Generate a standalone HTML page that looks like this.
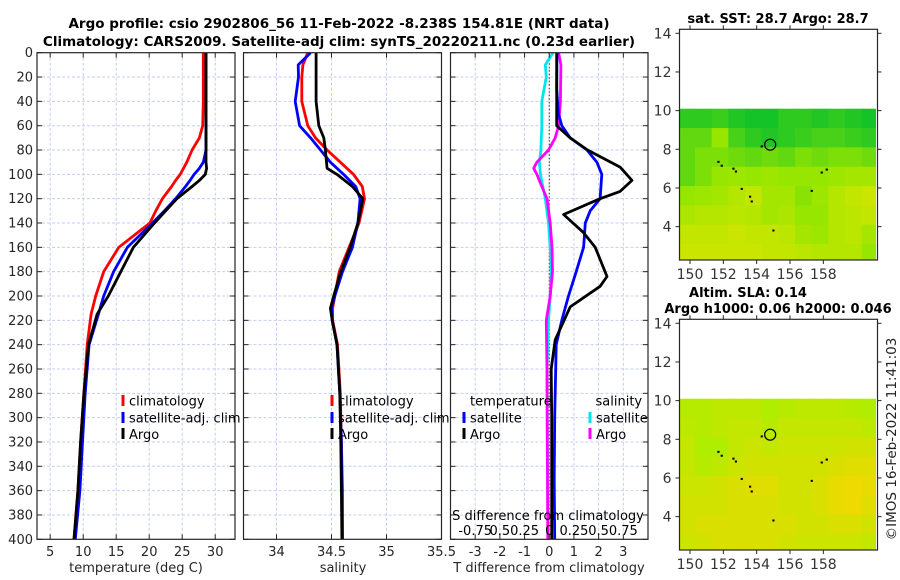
<!DOCTYPE html>
<html><head><meta charset="utf-8">
<style>
html,body{margin:0;padding:0;background:#fff;}
svg{display:block;font-family:"DejaVu Sans","Liberation Sans",sans-serif;}
</style></head>
<body>
<svg id="chart" width="900" height="580" viewBox="0 0 900 580" xmlns="http://www.w3.org/2000/svg">
<rect x="0" y="0" width="900" height="580" fill="#fff"/>
<text x="339" y="28" font-size="13.5" font-weight="bold" text-anchor="middle" fill="#000">Argo profile: csio 2902806_56 11-Feb-2022 -8.238S 154.81E (NRT data)</text>
<text x="339" y="46" font-size="13.5" font-weight="bold" text-anchor="middle" fill="#000">Climatology: CARS2009. Satellite-adj clim: synTS_20220211.nc (0.23d earlier)</text>
<g id="layer"></g>
</svg>
<script>
// ---- data ----
const tempDepth = [0,20,40,60,70,80,90,95,100,105,110,120,130,140,160,180,200,215,240,280,320,360,400];
const tempClim  = [28.2,28.2,28.2,28.1,27.6,26.5,25.7,25.2,24.7,24.0,23.4,22,21,20.1,15.4,13.1,11.9,11.2,10.6,10.1,9.6,9.2,8.6];
const tempSat   = [28.6,28.6,28.6,28.6,28.6,28.6,28.2,27.6,26.8,26.2,25.5,24,22.3,20.5,16.7,14.6,13.1,12.3,10.9,10.3,9.9,9.5,8.8];
const tempArgo  = [28.6,28.6,28.6,28.6,28.6,28.6,28.6,28.7,28.5,27.6,26.5,24.2,22.5,20.8,17.6,15.7,13.8,12.1,10.8,10.1,9.6,9.2,8.6];

const salDepth = [0,10,20,40,60,70,80,90,95,100,110,120,140,160,180,200,210,220,240,280,320,360,400];
const salClim  = [34.285,34.24,34.23,34.23,34.285,34.355,34.46,34.58,34.64,34.70,34.78,34.80,34.75,34.66,34.57,34.53,34.51,34.51,34.555,34.58,34.59,34.6,34.6];
const salSat   = [34.31,34.197,34.2,34.17,34.21,34.31,34.4,34.49,34.55,34.61,34.72,34.76,34.74,34.69,34.6,34.53,34.5,34.506,34.55,34.575,34.59,34.595,34.6];
const salArgo  = [34.36,34.36,34.36,34.36,34.385,34.43,34.445,34.455,34.46,34.55,34.69,34.785,34.74,34.67,34.585,34.52,34.49,34.506,34.55,34.575,34.585,34.59,34.595];

const dTSatDepth  = [0,30,50,60,70,80,90,100,120,130,140,160,180,200,220,240,300,350,400];
const dTSat       = [0.31,0.3,0.37,0.51,0.85,1.53,1.93,2.13,2.06,1.66,1.46,1.39,1.09,0.78,0.51,0.28,0.22,0.2,0.22];
const dTArgoDepth = [0,30,60,70,80,94,105,114,120,133,148,160,184,192,209,236,260,300,350,400];
const dTArgo      = [0.3,0.3,0.3,0.85,1.55,2.87,3.35,2.87,2.06,0.58,1.39,1.86,2.34,2.06,0.85,0.24,0.08,0.1,0.1,0.1];
const dSSatDepth  = [0,10,20,40,60,80,90,100,120,140,160,180,200,220,260,320,400];
const dSSat       = [0.0375,-0.04,-0.03,-0.075,-0.075,-0.085,-0.1,-0.09,-0.04,-0.0075,0.01,0.02,0.01,-0.0075,-0.0225,-0.02,-0.01];
const dSArgoDepth = [0,10,40,60,70,80,90,95,100,110,120,140,160,180,200,220,260,320,400];
const dSArgo      = [0.095,0.1175,0.1125,0.095,0.06,-0.0075,-0.125,-0.1575,-0.125,-0.075,-0.0225,0.01,0.0275,0.0325,0.01,-0.03,-0.0225,-0.02,-0.015];

const depthTicks = [0,20,40,60,80,100,120,140,160,180,200,220,240,260,280,300,320,340,360,380,400];
const tempTicks = [5,10,15,20,25,30];
const salTicks = [34,34.5,35,35.5];
const salTickLabels = ["34","34.5","35","35.5"];
const diffTicks = [-3,-2,-1,0,1,2,3];
const sDiffTicks = [-0.75,-0.5,-0.25,0,0.25,0.5,0.75];
const sDiffTickLabels = ["-0.75","0.5","0.25","0","0.25","0.5","0.75"];

const mapLatTicks = [4,6,8,10,12,14];
const mapLonTicks = [150,152,154,156,158];
const mapLonEdges = [149.3,150.3,151.3,152.3,153.3,154.3,155.3,156.3,157.3,158.3,159.3,160.3,161.3];
const mapLatEdges = [10.1,9.1,8.1,7.1,6.1,5.1,4.1,3.1,2.1];
const sstGrid = [
 [0.1,0.1,0.15,0.05,0,0,0.1,0.1,0.05,0.1,0.05,0],
 [0.3,0.3,0.5,0.2,0.1,0.05,0.1,0.15,0.2,0.2,0.15,0.1],
 [0.3,0.4,0.4,0.35,0.3,0.35,0.3,0.4,0.35,0.4,0.4,0.35],
 [0.3,0.4,0.5,0.55,0.5,0.55,0.5,0.5,0.5,0.55,0.6,0.6],
 [0.5,0.55,0.6,0.7,0.8,0.6,0.6,0.45,0.55,0.7,0.8,0.85],
 [0.65,0.7,0.7,0.75,0.7,0.6,0.65,0.5,0.5,0.7,0.75,0.8],
 [0.8,0.8,0.8,0.85,0.8,0.8,0.75,0.6,0.55,0.7,0.75,0.6],
 [0.85,0.85,0.85,0.85,0.85,0.8,0.8,0.75,0.7,0.7,0.7,0.5]];
const slaGrid = [
 [0.1,0.1,0.2,0.2,0.2,0,0.1,0.2,0.2,0.2,0.1,0],
 [0.2,0.1,0.2,0.3,0.3,0.1,0.3,0.3,0.3,0.3,0.3,0.2],
 [0.3,0,0,0.3,0.4,0.3,0.4,0.4,0.4,0.4,0.5,0.5],
 [0.3,0.1,0.2,0.4,0.5,0.5,0.5,0.5,0.5,0.6,0.7,0.7],
 [0.4,0.4,0.5,0.6,0.7,0.7,0.5,0.5,0.6,0.8,0.9,0.8],
 [0.5,0.5,0.5,0.6,0.6,0.6,0.5,0.5,0.6,0.8,0.9,0.7],
 [0.5,0.6,0.6,0.6,0.6,0.6,0.6,0.5,0.5,0.6,0.6,0.5],
 [0.4,0.5,0.6,0.6,0.6,0.6,0.5,0.4,0.4,0.4,0.4,0.3]];
const argoLon = 154.81, argoLat = 8.238;
const dotLons = [151.7,151.9,152.6,152.75,153.1,153.6,153.7,154.3,155.0,157.3,157.9,158.2];
const dotLats = [7.35,7.15,7.0,6.85,5.95,5.55,5.3,8.15,3.8,5.85,6.8,6.95];

// ---- helpers ----
const NS = "http://www.w3.org/2000/svg";
const layer = document.getElementById('layer');
function mk(tag, attrs, parent){ const e=document.createElementNS(NS,tag); for(const k in attrs) e.setAttribute(k,attrs[k]); (parent||layer).appendChild(e); return e; }

const yTop = 52.7, yBot = 539.3;
function yD(d){ return yTop + d*(yBot-yTop)/400; }
const P1 = {x0:37, x1:235, v0:3, v1:33};
const P2 = {x0:243.5, x1:441.5, v0:33.7, v1:35.5};
const P3 = {x0:450.5, x1:648, v0:-4, v1:4};
function sx(P){ return v => P.x0 + (v-P.v0)*(P.x1-P.x0)/(P.v1-P.v0); }
const xT = sx(P1), xS = sx(P2), xDf = sx(P3);
function xSD(v){ return xDf(v*4); }

function grid(P, xs, fx, name){
  const g = mk('g',{});
  
  
  xs.forEach(v=>{ const x=fx(v); if(x>P.x0+1&&x<P.x1-1) mk('line',{x1:x,x2:x,y1:yTop,y2:yBot,stroke:'#c6cdf0','stroke-width':1,'stroke-dasharray':'3,2'},g); });
  depthTicks.forEach(d=>{ const y=yD(d); if(d>0&&d<400) mk('line',{x1:P.x0,x2:P.x1,y1:y,y2:y,stroke:'#c6cdf0','stroke-width':1,'stroke-dasharray':'3,2'},g); });
}
function frame(P, xs, fx, name, leftLabels){
  const g = mk('g',{});
  
  
  mk('rect',{x:P.x0,y:yTop,width:P.x1-P.x0,height:yBot-yTop,fill:'none',stroke:'#262626','stroke-width':1.2},g);
  depthTicks.forEach(d=>{ const y=yD(d);
    mk('line',{x1:P.x0,x2:P.x0+5,y1:y,y2:y,stroke:'#262626'},g);
    mk('line',{x1:P.x1-5,x2:P.x1,y1:y,y2:y,stroke:'#262626'},g);
    if(leftLabels){ const t=mk('text',{x:P.x0-4,y:y+4.5,'font-size':13,'text-anchor':'end',fill:'#262626'},g); t.textContent=d; }
  });
  xs.forEach(v=>{ const x=fx(v);
    mk('line',{x1:x,x2:x,y1:yBot,y2:yBot-5,stroke:'#262626'},g);
    mk('line',{x1:x,x2:x,y1:yTop,y2:yTop+5,stroke:'#262626'},g);
  });
}
function xLabels(xs, labels, fx, name){
  xs.forEach((v,i)=>{ const t=mk('text',{x:fx(v),y:556,'font-size':13,'text-anchor':'middle',fill:'#262626'});
    
    
    t.textContent=labels[i]; });
}
function line(ds, vs, fx, color, name){
  const pts = ds.map((d,i)=>fx(vs[i]).toFixed(1)+','+yD(d).toFixed(1)).join(' ');
  const p = mk('polyline',{points:pts,fill:'none',stroke:color,'stroke-width':2.8,'stroke-linejoin':'round'});
  
  
}
function txt(x,y,s,name,opts){
  const t=mk('text',Object.assign({x:x,y:y,'font-size':13,fill:'#000'},opts||{}));
  
  
  t.textContent=s; return t;
}
function legMark(x,y,color,name){
  const r=mk('rect',{x:x-1.5,y:y-6,width:3,height:11,fill:color});
  
  
}

// ---- panel 1: temperature ----
grid(P1, tempTicks, xT, 'temperature');
line(tempDepth, tempClim, xT, '#ff0000', 'temperature-climatology-line');
line(tempDepth, tempSat, xT, '#0000ff', 'temperature-satellite-line');
line(tempDepth, tempArgo, xT, '#000000', 'temperature-argo-line');
frame(P1, tempTicks, xT, 'temperature', true);
xLabels(tempTicks, tempTicks.map(String), xT, 'temperature-x');
txt(136,572,'temperature (deg C)','temperature-x-axis-title',{'text-anchor':'middle',fill:'#262626'});
legMark(123,401,'#ff0000','legend-climatology-marker'); txt(129,405.5,'climatology','legend-climatology');
legMark(123,418,'#0000ff','legend-satellite-marker'); txt(129,422.5,'satellite-adj. clim','legend-satellite-adj');
legMark(123,434,'#000000','legend-argo-marker'); txt(129,439,'Argo','legend-argo');

// ---- panel 2: salinity ----
grid(P2, salTicks, xS, 'salinity');
line(salDepth, salClim, xS, '#ff0000', 'salinity-climatology-line');
line(salDepth, salSat, xS, '#0000ff', 'salinity-satellite-line');
line(salDepth, salArgo, xS, '#000000', 'salinity-argo-line');
frame(P2, salTicks, xS, 'salinity', false);
xLabels(salTicks, salTickLabels, xS, 'salinity-x');
txt(343,572,'salinity','salinity-x-axis-title',{'text-anchor':'middle',fill:'#262626'});
legMark(332,401,'#ff0000','legend2-climatology-marker'); txt(338,405.5,'climatology','legend2-climatology');
legMark(332,418,'#0000ff','legend2-satellite-marker'); txt(338,422.5,'satellite-adj. clim','legend2-satellite-adj');
legMark(332,434,'#000000','legend2-argo-marker'); txt(338,439,'Argo','legend2-argo');

// ---- panel 3: differences ----
grid(P3, diffTicks, xDf, 'difference');
mk('line',{x1:xDf(0),x2:xDf(0),y1:yTop,y2:yBot,stroke:'#333','stroke-width':1,'stroke-dasharray':'1.5,2'});
line(dSSatDepth, dSSat, xSD, '#00e5ee', 'salinity-diff-satellite-line');
line(dSArgoDepth, dSArgo, xSD, '#ff00ff', 'salinity-diff-argo-line');
line(dTSatDepth, dTSat, xDf, '#0000ff', 'temperature-diff-satellite-line');
line(dTArgoDepth, dTArgo, xDf, '#000000', 'temperature-diff-argo-line');
frame(P3, diffTicks, xDf, 'difference', false);
xLabels(diffTicks, diffTicks.map(String), xDf, 'difference-x');
txt(549,572,'T difference from climatology','difference-x-axis-title',{'text-anchor':'middle',fill:'#262626'});
txt(548,520,'S difference from climatology','s-difference-axis-title',{'text-anchor':'middle'});
sDiffTicks.forEach((v,i)=>{ txt(xSD(v),535,sDiffTickLabels[i],'s-difference-tick-label',{'text-anchor':'middle'}); });
txt(470,405.5,'temperature','legend3-temperature-header');
legMark(464,418,'#0000ff','legend3-t-satellite-marker'); txt(470,422.5,'satellite','legend3-t-satellite');
legMark(464,434,'#000000','legend3-t-argo-marker'); txt(470,439,'Argo','legend3-t-argo');
txt(595.5,405.5,'salinity','legend3-salinity-header');
legMark(590,418,'#00e5ee','legend3-s-satellite-marker'); txt(596,422.5,'satellite','legend3-s-satellite');
legMark(590,434,'#ff00ff','legend3-s-argo-marker'); txt(596,439,'Argo','legend3-s-argo');

// ---- maps ----
function mapPanel(top, gridVals, colorFn, name){
  const M = {x0:679.5, x1:877.5, y0:top, y1:top+230.7};
  const lonX = lon => 690 + (lon-150)*16.667;
  const latY = lat => (top+4) + (14-lat)*19.333;
  const g = mk('g',{});
  
  
  for(let r=0;r<gridVals.length;r++){
    for(let c=0;c<gridVals[r].length;c++){
      let x0=Math.max(lonX(mapLonEdges[c]),M.x0), x1=Math.min(lonX(mapLonEdges[c+1]),M.x1-2);
      let y0=latY(mapLatEdges[r]), y1=Math.min(latY(mapLatEdges[r+1]),M.y1);
      if(x1<=x0||y1<=y0) continue;
      const cell=mk('rect',{x:x0,y:y0,width:x1-x0+0.5,height:y1-y0+0.5,fill:colorFn(gridVals[r][c])},g);
      
      
    }
  }
  dotLons.forEach((lo,i)=>{ mk('rect',{x:lonX(lo)-1,y:latY(dotLats[i])-1,width:2.2,height:2,fill:'#000'},g); });
  const circ = mk('circle',{cx:lonX(argoLon),cy:latY(argoLat),r:5.5,fill:'none',stroke:'#000','stroke-width':1.2},g);
  
  
  mk('rect',{x:M.x0,y:M.y0,width:M.x1-M.x0,height:M.y1-M.y0,fill:'none',stroke:'#262626','stroke-width':1.2},g);
  mapLatTicks.forEach(lat=>{ const y=latY(lat);
    mk('line',{x1:M.x0-4,x2:M.x0,y1:y,y2:y,stroke:'#262626'},g);
    mk('line',{x1:M.x1,x2:M.x1+4,y1:y,y2:y,stroke:'#262626'},g);
    const t=mk('text',{x:671.5,y:y+5,'font-size':14,'text-anchor':'end',fill:'#333'},g); t.textContent=lat; });
  mapLonTicks.forEach(lon=>{ const x=lonX(lon);
    mk('line',{x1:x,x2:x,y1:M.y1,y2:M.y1+4,stroke:'#262626'},g);
    mk('line',{x1:x,x2:x,y1:M.y0-4,y2:M.y0,stroke:'#262626'},g);
    const t=mk('text',{x:x,y:M.y1+19,'font-size':14,'text-anchor':'middle',fill:'#333'},g); t.textContent=lon; });
}
function sstColor(v){ // green -> lime -> yellow
  let r,gg,b;
  if(v<0.5){ const t=v/0.5; r=20+t*(150-20); gg=195+t*(230-195); b=40-t*40; }
  else { const t=(v-0.5)/0.5; r=150+t*(225-150); gg=230; b=0; }
  return `rgb(${r|0},${gg|0},${b|0})`;
}
function slaColor(v){ // lime -> yellow -> orange-yellow
  const r=175+v*(245-175), gg=238-v*(238-215), b=0;
  return `rgb(${r|0},${gg|0},${b})`;
}
mapPanel(29.3, sstGrid, sstColor, 'sst-map');
mapPanel(319.3, slaGrid, slaColor, 'sla-map');
txt(778,23,'sat. SST: 28.7 Argo: 28.7','sst-map-title',{'font-weight':'bold','text-anchor':'middle'});
txt(748,297,'Altim. SLA: 0.14','sla-map-title-1',{'font-weight':'bold','text-anchor':'middle'});
txt(778,313,'Argo h1000: 0.06 h2000: 0.046','sla-map-title-2',{'font-weight':'bold','text-anchor':'middle'});
txt(0,0,'©IMOS 16-Feb-2022 11:41:03','imos-timestamp',{'text-anchor':'middle','transform':'translate(896,439) rotate(-90)','font-size':13.5,fill:'#222'});
</script>
</body></html>
